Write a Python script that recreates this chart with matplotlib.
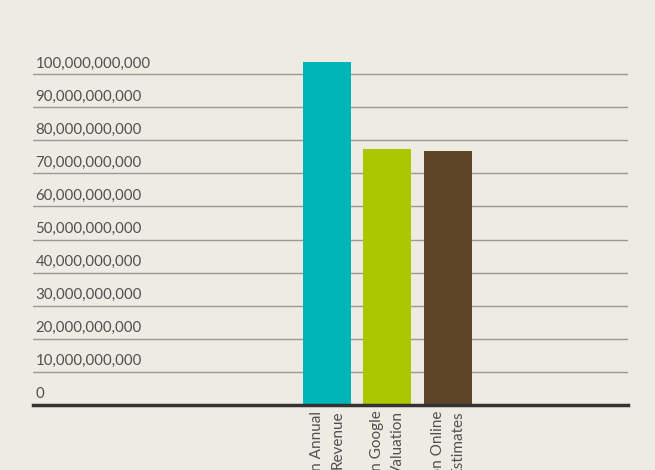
import matplotlib
matplotlib.use("Agg")
import matplotlib.pyplot as plt
import matplotlib.transforms as mtransforms

plt.rcParams['font.family'] = ['Lato', 'DejaVu Sans']

# data
categories = ["Amazon Annual\nRevenue", "Amazon Google\nValuation", "Amazon Online\nEstimates"]
values = [103.6e9, 77.4e9, 76.7e9]
colors = ["#00b5b8", "#a9c800", "#5e4527"]
yticks = [0, 10e9, 20e9, 30e9, 40e9, 50e9, 60e9, 70e9, 80e9, 90e9, 100e9]

bg = "#edebe2"
fig = plt.figure(figsize=(6.55, 4.70), dpi=100, facecolor=bg)
ax = fig.add_axes([33 / 655, 65 / 470, 595 / 655, 364 / 470], facecolor=bg)

x = list(range(len(categories)))
ax.bar(x, values, width=0.79, color=colors, zorder=3)

ax.set_xlim(-4.86, 4.98)
ax.set_ylim(0, 110e9)

# gridlines with labels sitting above them
trans = mtransforms.blended_transform_factory(ax.transAxes, ax.transData)
for t in yticks:
    if t > 0:
        ax.axhline(t, color="#9a9a90", lw=1, zorder=1)
    ax.text(0.004, t + 1.1e9, f"{int(t):,}", transform=trans, ha="left", va="bottom",
            fontsize=10.8, color="#505050")
ax.axhline(0, color="#333333", lw=2.5, zorder=4, clip_on=False)

for s in ax.spines.values():
    s.set_visible(False)
ax.set_xticks([])
ax.set_yticks([])

# category labels, rotated and cut off at the bottom like the reference
for xi, lab in zip(x, categories):
    ax.annotate(lab, xy=(xi, 0), xytext=(0, -4), textcoords="offset points",
                rotation=90, ha="center", va="top", multialignment="right",
                fontsize=11, linespacing=1.6, color="#505050", annotation_clip=False)

fig.savefig("out.png", dpi=100, facecolor=bg)
